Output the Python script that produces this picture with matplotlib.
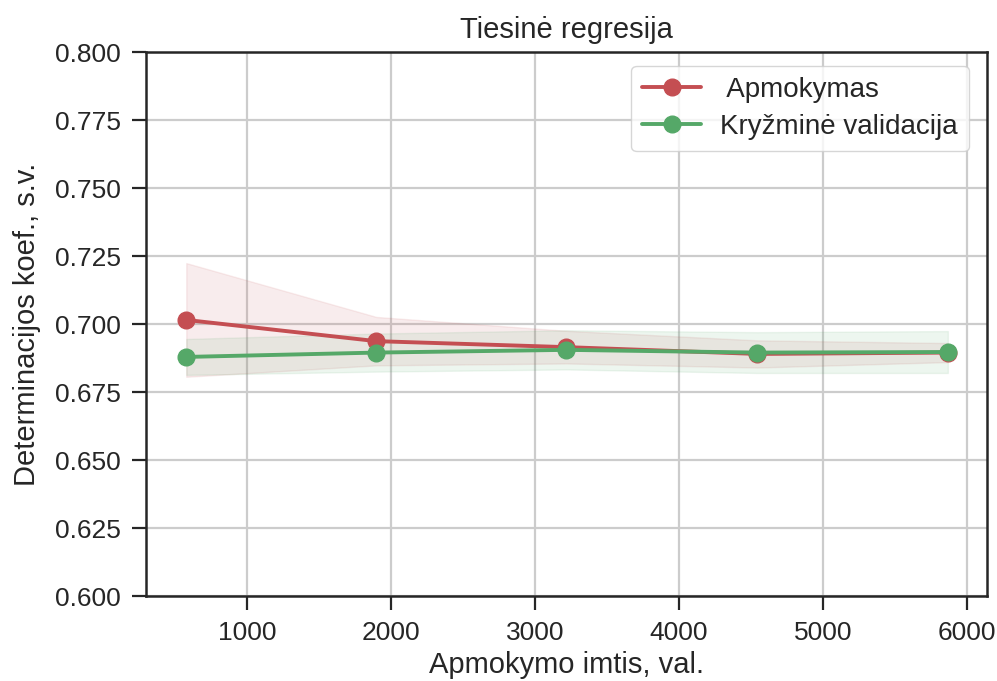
import numpy as np
import matplotlib
matplotlib.use("Agg")
import matplotlib.pyplot as plt
import seaborn as sns

sns.set_theme(style="ticks", color_codes=True)
plt.rcParams['font.family'] = ['Liberation Sans', 'DejaVu Sans']

train_sizes = [580, 1900, 3220, 4545, 5868]
train_mean = [0.7015, 0.6937, 0.6915, 0.6890, 0.6895]
train_std = [0.0209, 0.0089, 0.0060, 0.0050, 0.0035]
cv_mean = [0.6879, 0.6895, 0.6905, 0.6895, 0.6897]
cv_std = [0.0066, 0.0070, 0.0072, 0.0075, 0.0077]

title = "Tiesinė regresija"
xlabel = "Apmokymo imtis, val."
ylabel = "Determinacijos koef., s.v."
labels = [" Apmokymas", "Kryžminė validacija"]

tm, ts = np.array(train_mean), np.array(train_std)
cm, cs = np.array(cv_mean), np.array(cv_std)

fig = plt.figure(figsize=(9.97, 6.81), dpi=100)
ax = fig.add_axes([0.1464, 0.1248, 0.8436, 0.7988])
ax.grid(True, color="#cccccc", linewidth=1.6)
ax.fill_between(train_sizes, tm - ts, tm + ts, alpha=0.1, color="r")
ax.fill_between(train_sizes, cm - cs, cm + cs, alpha=0.1, color="g")
ax.plot(train_sizes, tm, 'o-', color="r", label=labels[0], linewidth=2.8, markersize=12)
ax.plot(train_sizes, cm, 'o-', color="g", label=labels[1], linewidth=2.8, markersize=12)
ax.set_ylim(0.6, 0.8)
ax.set_xlim(300, 6140)
ax.set_yticks(np.arange(0.6, 0.8001, 0.025))
ax.set_xticks([1000, 2000, 3000, 4000, 5000, 6000])
ax.yaxis.set_major_formatter(matplotlib.ticker.FormatStrFormatter('%.3f'))
ax.tick_params(labelsize=19, colors="#262626", length=10, width=1.6, pad=8)
for s in ax.spines.values():
    s.set_color("#262626")
    s.set_linewidth(1.8)
ax.set_title(title, fontsize=21, color="#262626", pad=10)
ax.set_xlabel(xlabel, fontsize=21, color="#262626", labelpad=4)
ax.set_ylabel(ylabel, fontsize=21, color="#262626", labelpad=10)
ax.legend(loc="upper right", fontsize=20, frameon=True, borderpad=0.4,
          handlelength=2.1, handletextpad=0.7, labelspacing=0.4,
          bbox_to_anchor=(0.995, 1.0))
fig.savefig("out.png", dpi=100)
